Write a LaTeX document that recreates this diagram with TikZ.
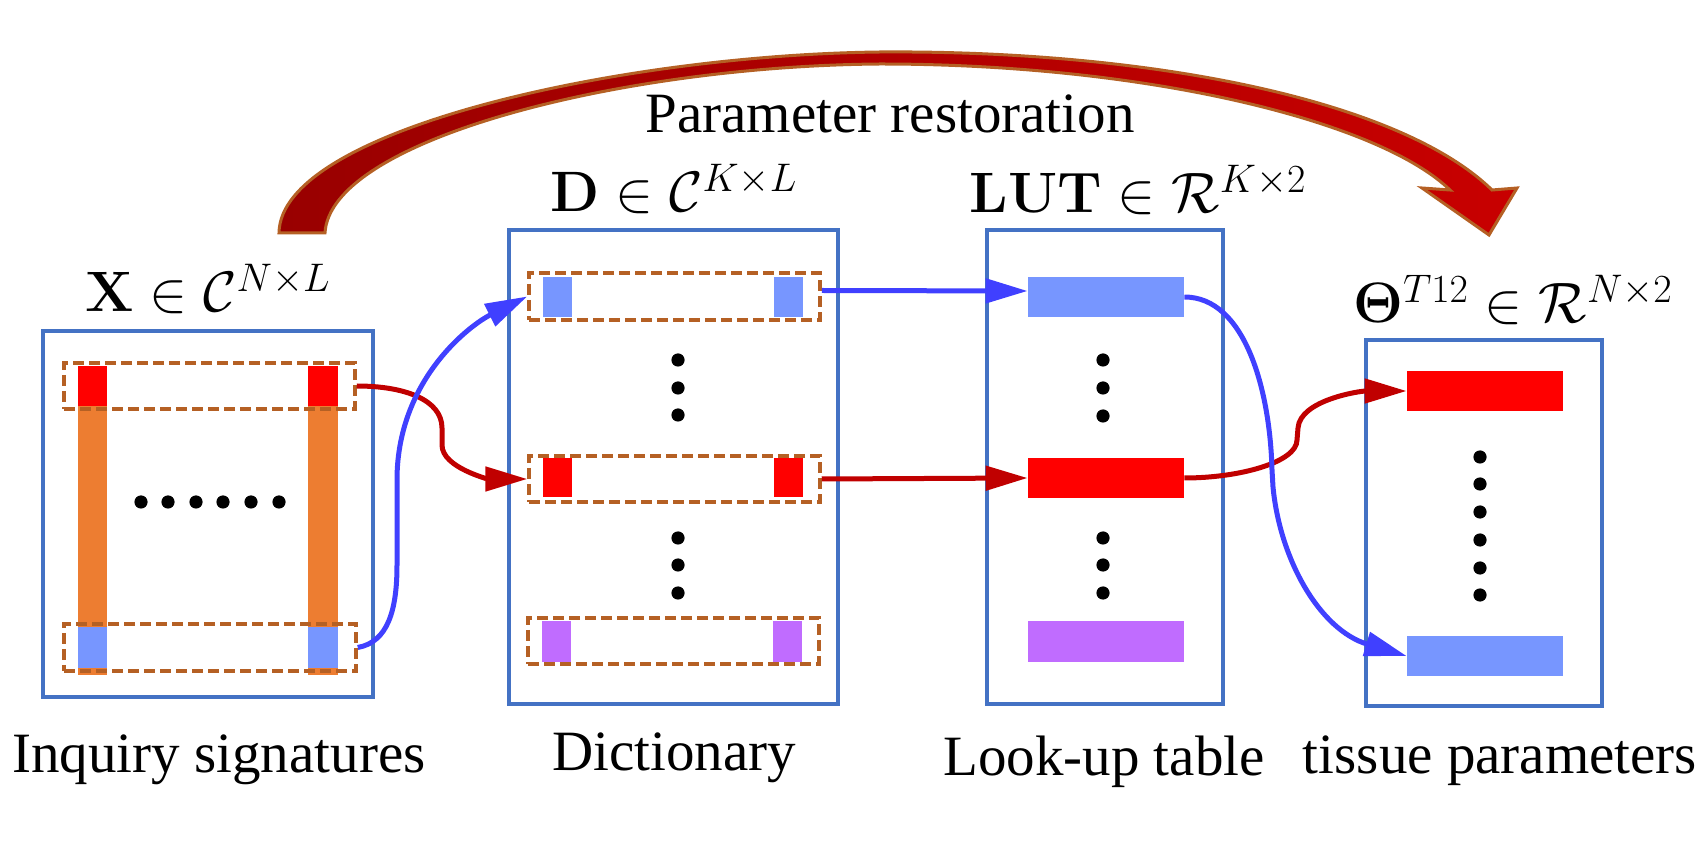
\RequirePackage{fix-cm}
\documentclass[tikz,border=0pt]{standalone}
\usepackage[no-math]{fontspec}
\setmainfont{Liberation Serif}
\usetikzlibrary{arrows.meta,fit,calc}
\definecolor{boxblue}{HTML}{4472C4}
\definecolor{dashbrown}{RGB}{181,96,36}
\definecolor{connblue}{RGB}{64,64,255}
\definecolor{connred}{HTML}{C00000}
\definecolor{barred}{HTML}{FF0000}
\definecolor{barblue}{RGB}{119,150,255}
\definecolor{barpurple}{RGB}{192,108,255}
\definecolor{barorange}{HTML}{ED7D31}
\definecolor{arrowdark}{HTML}{990000}
\definecolor{arrowred}{HTML}{C80000}
\begin{document}
\begin{tikzpicture}[x=0.5pt,y=-0.5pt,
  bbox/.style={draw=boxblue,line width=2pt,inner sep=0pt},
  dbox/.style={draw=dashbrown,line width=1.75pt,dash pattern=on 5.5pt off 2.5pt,inner sep=0pt},
  bar/.style={inner sep=0pt,draw=none},
  dotn/.style={circle,fill=black,inner sep=0pt,minimum size=6.6pt},
  lbl/.style={font=\fontsize{28.5}{34}\selectfont,inner sep=0pt,anchor=base},
  conntip/.style={-{Triangle[length=21pt,width=12pt]}},
  bconn/.style={draw=connblue,line width=2.5pt,conntip},
  rconn/.style={draw=connred,line width=2.5pt,conntip}]
\useasboundingbox (0,0) rectangle (1703,849);

% big curved arrow
\path[draw=dashbrown,line width=1.5pt,left color=arrowdark,right color=arrowred,line join=miter]
  (325,233) -- (279,233) .. controls (280,130) and (620,55) .. (880,52)
  .. controls (1150,50) and (1400,100) .. (1492,190) -- (1517,188) -- (1489,235)
  -- (1422,188) -- (1450,190) .. controls (1380,122) and (1150,64) .. (880,64)
  .. controls (620,66) and (330,140) .. (325,233) -- cycle;
\node[lbl] (pr) at (890,133) {Parameter restoration};

% X block
\node[bbox,fit={(43,331)(373,697)}] (X) {};
\node[bar,fill=barorange,fit={(78,366)(107,675)}] (xo1) {};
\node[bar,fill=barorange,fit={(308,366)(338,675)}] (xo2) {};
\node[bar,fill=barred,fit={(78,366)(107,406)}] (xr1) {};
\node[bar,fill=barred,fit={(308,366)(338,406)}] (xr2) {};
\node[bar,fill=barblue,fit={(78,627)(107,668)}] (xb1) {};
\node[bar,fill=barblue,fit={(308,627)(338,668)}] (xb2) {};
\node[dbox,fit={(64,363)(355,409)}] (xtop) {};
\node[dbox,fit={(64,624)(356,671)}] (xbot) {};
\foreach \i/\x in {1/141,2/168,3/196,4/223,5/251,6/279}
  \node[dotn] (xd\i) at (\x,502) {};
\node[lbl] (xl) at (208,312) {$\mathbf{X}\in\mathcal{C}^{N\times L}$};
\node[lbl] (xt) at (219,772) {Inquiry signatures};

% D block
\node[bbox,fit={(509,230)(838,704)}] (D) {};
\node[bar,fill=barblue,fit={(543,277)(572,317)}] (db1) {};
\node[bar,fill=barblue,fit={(774,277)(803,317)}] (db2) {};
\node[bar,fill=barred,fit={(543,458)(572,497)}] (dr1) {};
\node[bar,fill=barred,fit={(774,458)(803,497)}] (dr2) {};
\node[bar,fill=barpurple,fit={(542,621)(571,662)}] (dp1) {};
\node[bar,fill=barpurple,fit={(773,621)(802,662)}] (dp2) {};
\node[dbox,fit={(529,273)(820,320)}] (dtop) {};
\node[dbox,fit={(529,456)(820,502)}] (dred) {};
\node[dbox,fit={(528,618)(819,664)}] (dpur) {};
\foreach \i/\y in {1/360,2/388,3/415,4/538,5/565,6/593}
  \node[dotn] (dd\i) at (678,\y) {};
\node[lbl] (dl) at (674,212) {$\mathbf{D}\in\mathcal{C}^{K\times L}$};
\node[lbl] (dt) at (674,770) {Dictionary};

% LUT block
\node[bbox,fit={(987,230)(1223,704)}] (LUT) {};
\node[bar,fill=barblue,fit={(1028,277)(1184,317)}] (lutb) {};
\node[bar,fill=barred,fit={(1028,458)(1184,498)}] (lutr) {};
\node[bar,fill=barpurple,fit={(1028,621)(1184,662)}] (lutp) {};
\foreach \i/\y in {1/360,2/388,3/416,4/538,5/565,6/593}
  \node[dotn] (ld\i) at (1103,\y) {};
\node[lbl] (ll) at (1138,213) {$\mathbf{LUT}\in\mathcal{R}^{K\times 2}$};
\node[lbl] (lt) at (1104,775) {Look-up table};

% Theta block
\node[bbox,fit={(1366,340)(1602,706)}] (TH) {};
\node[bar,fill=barred,fit={(1407,371)(1563,411)}] (thr) {};
\node[bar,fill=barblue,fit={(1407,636)(1563,676)}] (thb) {};
\foreach \i/\y in {1/457,2/484,3/512,4/540,5/568,6/595}
  \node[dotn] (td\i) at (1480,\y) {};
\node[lbl] (tl) at (1513,323) {$\mathbf{\Theta}^{T12}\in\mathcal{R}^{N\times 2}$};
\node[lbl] (tt) at (1500,773) {tissue parameters};

% connectors
\draw[rconn] (xtop.east) .. controls (405,386) and (442,400) .. (442,428)
  -- (442,445) .. controls (442,468) and (490,479) .. (dred.west);
\draw[bconn] (xbot.east) .. controls (388,642) and (397,610) .. (397,565)
  -- (397,480) .. controls (397,380) and (470,325) .. (dtop.west);
\draw[rconn] (dred.east) -- (lutr.west);
\draw[bconn] ($(dtop.east)+(0,-6)$) -- ($(lutb.west)+(0,-6)$);
\draw[rconn] (lutr.east) .. controls (1240,478) and (1297,462) .. (1297,440)
  -- (1298,428) .. controls (1300,400) and (1360,391) .. (thr.west);
\draw[bconn] (lutb.east) .. controls (1245,297) and (1270,390) .. (1272,470)
  -- (1273,487) .. controls (1280,560) and (1320,630) .. (thb.west);
\end{tikzpicture}
\end{document}
